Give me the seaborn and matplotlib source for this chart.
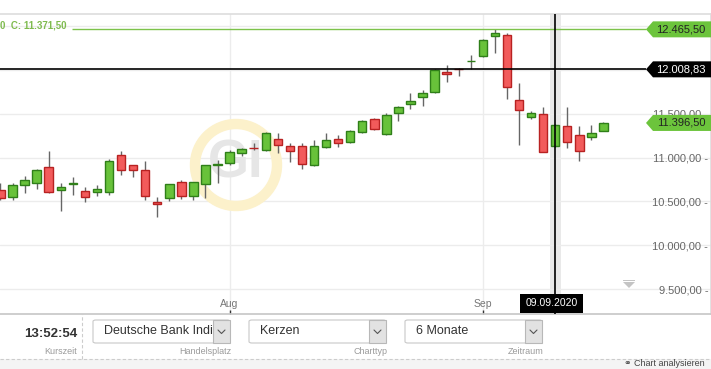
import numpy as np
import matplotlib
matplotlib.use("Agg")
import matplotlib.pyplot as plt
import matplotlib.transforms as mtransforms
from matplotlib.patches import Polygon, Rectangle, Ellipse, FancyBboxPatch
import seaborn as sns

# ---------------- data (daily candles, 07.07.2020 .. 15.09.2020) ----------------
open_ = [10631, 10551, 10688, 10711, 10894, 10631, 10699, 10620, 10608, 10608,
         11031, 10916, 10859, 10494, 10540, 10722, 10562, 10699, 10922, 10939,
         11053, 11116, 11088, 11213, 11133, 11133, 10916, 11122, 11213, 11179,
         11293, 11442, 11270, 11510, 11613, 11693, 11750, 11978, 12016, 12100,
         12161, 12390, 12401, 11659, 11465, 11499, 11133, 11362, 11259, 11236,
         11305]
high_ = [10711, 10711, 10791, 10871, 11076, 10711, 10779, 10665, 10688, 10985,
         11076, 10916, 10962, 10551, 10699, 10745, 10722, 10916, 10973, 11088,
         11111, 11168, 11293, 11282, 11168, 11168, 11202, 11282, 11259, 11316,
         11430, 11453, 11510, 11590, 11739, 11773, 12013, 12058, 12024, 12173,
         12355, 12465.5, 12424, 11853, 11533, 11579, 11380, 11579, 11362, 11373,
         11410]
low_ = [10517, 10517, 10597, 10642, 10597, 10391, 10574, 10494, 10562, 10574,
        10802, 10779, 10517, 10323, 10505, 10528, 10517, 10540, 10711, 10916,
        11019, 11088, 11076, 11053, 10951, 10871, 10905, 11111, 11122, 11168,
        11282, 11316, 11259, 11419, 11556, 11590, 11739, 11864, 11933, 12013,
        12150, 12195, 11670, 11145, 11442, 11065, 11125, 11111, 10962, 11202,
        11305]
close_ = [10540, 10688, 10745, 10859, 10608, 10665, 10711, 10551, 10642, 10962,
          10859, 10859, 10562, 10471, 10699, 10562, 10722, 10916, 10930, 11065,
          11099, 11108, 11282, 11145, 11076, 10928, 11133, 11202, 11168, 11305,
          11419, 11328, 11487, 11579, 11647, 11739, 12001, 11956, 12010, 12104,
          12344, 12424, 11807, 11545, 11510, 11065, 11371.5, 11179, 11076, 11282,
          11396.5]

month_tick_idx = [19, 40]
month_tick_labels = ["Aug", "Sep"]
y_ticks = [9500, 10000, 10500, 11000, 11500, 12000, 12500]
y_labeled = [9500, 10000, 10500, 11000, 11500]

period_high = 12465.50
crosshair_value = 12008.83
last_price = 11396.50
crosshair_idx = 46
crosshair_date = "09.09.2020"
readout_text = "0  C: 11.371,50"
kurszeit = "13:52:54"
dropdowns = [("Deutsche Bank Indi", "Handelsplatz"),
             ("Kerzen", "Charttyp"),
             ("6 Monate", "Zeitraum")]


def de(v):
    s = f"{v:,.2f}"
    return s.replace(",", "X").replace(".", ",").replace("X", ".")


# ---------------- style ----------------
sns.set_theme(style="white")
plt.rcParams["font.family"] = ["Liberation Sans", "DejaVu Sans"]

W, H = 711, 369
fig = plt.figure(figsize=(W / 100, H / 100), dpi=100)
fig.patch.set_facecolor("white")


def fx(px):
    return px / W


def fy(py):
    return 1 - py / H


top_px, bot_px = 14, 314
ax = fig.add_axes([0, fy(bot_px), 1, (bot_px - top_px) / H])
ax.set_facecolor("white")

spacing = 12.06  # px per candle
x0px = 0.44
ax.set_xlim(-x0px / spacing, (W - x0px) / spacing)
ax.set_ylim(9214.8, 12640.8)


def px2x(px):
    return (px - x0px) / spacing


n = len(open_)
idx = np.arange(n)
o = np.array(open_, float)
c = np.array(close_, float)
hi = np.array(high_, float)
lo = np.array(low_, float)
up = c >= o

# grid
ax.set_yticks(y_ticks)
ax.set_yticklabels([de(v) + " -" if v in y_labeled else "" for v in y_ticks])
ax.set_xticks(month_tick_idx)
ax.set_xticklabels(month_tick_labels)
ax.set_axisbelow(True)
ax.grid(True, color="#ececec", lw=1)

# hover band
ax.axvspan(crosshair_idx - 0.46, crosshair_idx + 0.46, color="#e9e9e9", zorder=0.4, lw=0)

# watermark
ax.add_patch(Ellipse((fx(236), fy(165)), 2 * 41 / W, 2 * 41 / H, transform=fig.transFigure,
                     facecolor="none", edgecolor="#fcf1cb", lw=7.5, zorder=0.6))
ax.text(fx(236), fy(164), "GI", transform=fig.transFigure, ha="center", va="center",
        fontsize=38, fontweight="bold", color="#e6e6e6", zorder=0.7)

# wicks
ax.vlines(idx, lo, hi, color="#666666", lw=1, zorder=2)
# bodies
body_bottom = np.minimum(o, c)
body_h = np.maximum(np.abs(c - o), 4)
ax.bar(idx[up], body_h[up], bottom=body_bottom[up], width=0.7,
       color="#68c23a", edgecolor="#2f7f19", lw=1, zorder=3)
ax.bar(idx[~up], body_h[~up], bottom=body_bottom[~up], width=0.7,
       color="#f25b5b", edgecolor="#b82222", lw=1, zorder=3)

# period high line
ax.hlines(period_high, px2x(72), px2x(646), color="#7cc24a", lw=1, zorder=4)
# crosshair
ax.hlines(crosshair_value, px2x(0), px2x(646), color="black", lw=1.2, zorder=5)
ax.axvline(crosshair_idx, color="black", lw=1.2, zorder=5)

# readout text
ax.text(fx(0), fy(26), readout_text, transform=fig.transFigure, ha="left", va="center",
        fontsize=7, fontweight="bold", color="#7fbb4f", zorder=6)

# price tags
btr = mtransforms.blended_transform_factory(fig.transFigure, ax.transData)
hpx = 11.42  # value per pixel
for val, fc, tc in [(period_high, "#6cc43c", "#222222"),
                    (crosshair_value, "#000000", "#ffffff"),
                    (last_price, "#6cc43c", "#222222")]:
    d = 8 * hpx
    pts = [(fx(646), val), (fx(653), val + d), (fx(711), val + d),
           (fx(711), val - d), (fx(653), val - d)]
    ax.add_patch(Polygon(pts, closed=True, transform=btr, facecolor=fc,
                         edgecolor="none", zorder=7, clip_on=False))
    ax.text(fx(681), val, de(val), transform=btr, ha="center", va="center",
            fontsize=8, color=tc, zorder=8)

# date tag
dtr = mtransforms.blended_transform_factory(ax.transData, fig.transFigure)
ax.add_patch(Rectangle((crosshair_idx - 2.9, fy(313)), 5.22, 19 / H, transform=dtr,
                       facecolor="black", edgecolor="none", zorder=7, clip_on=False))
ax.text(crosshair_idx - 0.29, fy(303.5), crosshair_date, transform=dtr, ha="center",
        va="center", fontsize=7.5, color="white", zorder=8)

# small collapse triangle
ax.add_patch(Polygon([(fx(623), fy(282)), (fx(635), fy(282)), (fx(629), fy(288))],
                     transform=fig.transFigure, facecolor="#c4c4c4", edgecolor="none",
                     zorder=6))
ax.add_patch(Rectangle((fx(623), fy(280.5)), 12 / W, 1 / H, transform=fig.transFigure,
                       facecolor="#c4c4c4", edgecolor="none", zorder=6))

# axis styling
ax.spines["left"].set_visible(False)
ax.spines["top"].set_color("#dedede")
ax.spines["bottom"].set_color("#c8c8c8")
ax.spines["right"].set_color("#dedede")
ax.yaxis.tick_right()
ax.tick_params(axis="y", length=0, pad=-2, labelsize=8, colors="#666666",
               labelright=True, labelleft=False)
for lbl in ax.get_yticklabels():
    lbl.set_ha("right")
ax.tick_params(axis="x", direction="in", length=3, width=1, pad=-11, labelsize=7.5,
               colors="#333333", labelcolor="#777777", bottom=True)

# ---------------- control bar ----------------
fig.patches.append(Rectangle((0, 0), 1, fy(359), transform=fig.transFigure,
                             facecolor="#f4f4f4", edgecolor="none", zorder=0))
fig.lines.append(plt.Line2D([0, 1], [fy(359), fy(359)], transform=fig.transFigure,
                            color="#cccccc", lw=0.8, ls=(0, (3, 2))))
fig.lines.append(plt.Line2D([fx(82), fx(82)], [fy(359), fy(314)], transform=fig.transFigure,
                            color="#cccccc", lw=0.8, ls=(0, (3, 2))))
fig.text(fx(77), fy(334), kurszeit, ha="right", va="center", fontsize=9.5,
         fontweight="bold", color="#333333")
fig.text(fx(77), fy(351), "Kurszeit", ha="right", va="center", fontsize=6.5, color="#9a9a9a")

box_lefts = [93, 249, 405]
bw, by0, by1, btn = 137, 320, 343, 17
for (txt, lab), bl in zip(dropdowns, box_lefts):
    fig.patches.append(FancyBboxPatch((fx(bl), fy(by1)), bw / W, (by1 - by0) / H,
                                      boxstyle="round,pad=0,rounding_size=0.004",
                                      transform=fig.transFigure, facecolor="white",
                                      edgecolor="#c8c8c8", lw=0.8))
    fig.patches.append(Rectangle((fx(bl + bw - btn), fy(by1)), btn / W, (by1 - by0) / H,
                                 transform=fig.transFigure, facecolor="#e2e2e2",
                                 edgecolor="#b8b8b8", lw=0.8))
    cx, cy = bl + bw - btn / 2, (by0 + by1) / 2
    fig.lines.append(plt.Line2D([fx(cx - 3.5), fx(cx), fx(cx + 3.5)],
                                [fy(cy - 1.5), fy(cy + 2), fy(cy - 1.5)],
                                transform=fig.transFigure, color="#555555", lw=0.8))
    fig.text(fx(bl + 11), fy(cy), txt, ha="left", va="center", fontsize=9, color="#333333")
    fig.text(fx(bl + bw + 1), fy(351), lab, ha="right", va="center", fontsize=6.5,
             color="#9a9a9a")

fig.text(fx(705), fy(364), "\u26ad Chart analysieren", ha="right", va="center",
         fontsize=6.5, color="#444444")

fig.savefig("out.png", dpi=100, facecolor="white")
